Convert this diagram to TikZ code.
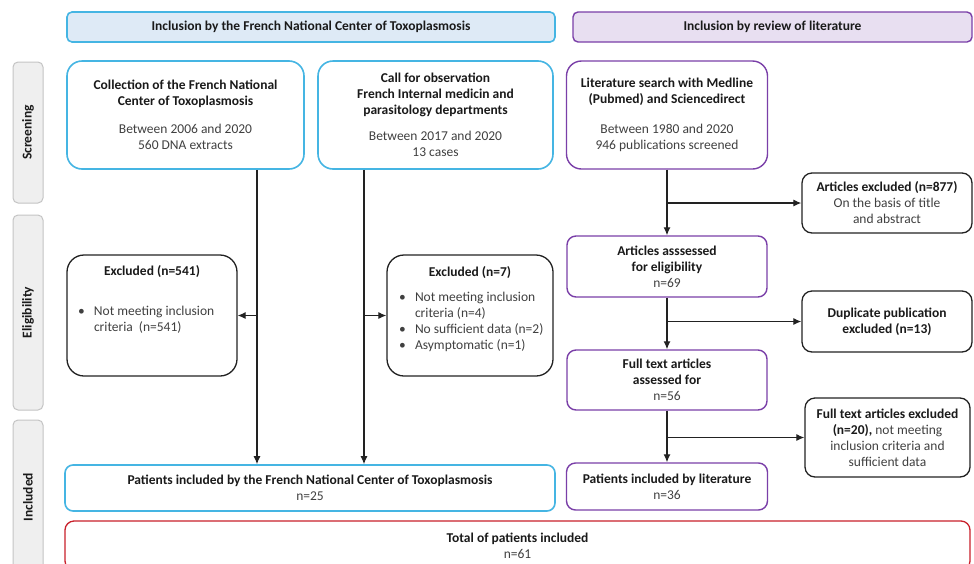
\documentclass[tikz,border=0pt]{standalone}
\usepackage{fontspec}
\setmainfont{Carlito}
\usetikzlibrary{arrows.meta}
\definecolor{cy}{HTML}{45B5E3}
\definecolor{cyf}{HTML}{DEEAF6}
\definecolor{pu}{HTML}{7A3FA8}
\definecolor{puf}{HTML}{E8DFF1}
\definecolor{rd}{HTML}{C8202A}
\definecolor{gyf}{HTML}{EFEFEF}
\definecolor{gyd}{HTML}{C4C4C4}
\definecolor{tb}{HTML}{1A1A1A}
\definecolor{tn}{HTML}{404040}
\definecolor{kb}{HTML}{222222}
\newcommand{\bt}[1]{{\bfseries\color{tb}#1}}
\begin{document}
\begin{tikzpicture}[x=1pt,y=-1pt,
  base/.style={inner sep=0pt, align=center, text=tn, font=\fontsize{13.5}{16}\selectfont},
  cbox/.style={base, draw=cy, line width=1.6pt},
  pbox/.style={base, draw=pu, line width=1.4pt},
  kbox/.style={base, draw=kb, line width=1.3pt},
  rbox/.style={base, draw=rd, line width=1.3pt},
  pbx/.style={inner sep=0pt, text=tn, font=\fontsize{13.5}{16}\selectfont, draw=kb, line width=1.3pt, rounded corners=17pt},
  side/.style={base, draw=gyd, fill=gyf, line width=1pt, rounded corners=5pt, rotate=90, minimum height=30pt, font=\fontsize{13.5}{16}\selectfont\bfseries, text=tb},
  arr/.style={draw=kb, line width=1.2pt, -{Latex[length=8pt,width=7pt]}}
]
\clip (0,0) rectangle (974,563);
\fill[white] (0,0) rectangle (974,563);

% headers
\node[base, draw=cy, fill=cyf, line width=1.6pt, rounded corners=5pt, minimum width=488pt, minimum height=30pt] (hdrA) at (311,27) {\bt{Inclusion by the French National Center of Toxoplasmosis}};
\node[base, draw=pu, fill=puf, line width=1.4pt, rounded corners=5pt, minimum width=399pt, minimum height=30pt] (hdrB) at (772.5,27) {\bt{Inclusion by review of literature}};

% side labels
\node[side, minimum width=141pt] (sideS) at (28,132.5) {Screening};
\node[side, minimum width=195pt] (sideE) at (28,312.5) {Eligibility};
\node[side, minimum width=154pt] (sideI) at (28,497) {Included};

% screening boxes
\node[cbox, rounded corners=15pt, minimum width=237pt, minimum height=108pt] (coll) at (185.5,115)
  {\bt{Collection of the French National}\\\bt{Center of Toxoplasmosis}\\[12pt]Between 2006 and 2020\\560 DNA extracts};
\node[cbox, rounded corners=15pt, minimum width=235pt, minimum height=108pt] (call) at (435.5,115)
  {\bt{Call for observation}\\\bt{French Internal medicin and}\\\bt{parasitology departments}\\[10pt]Between 2017 and 2020\\13 cases};
\node[pbox, rounded corners=15pt, minimum width=201pt, minimum height=108pt] (lit) at (667,115)
  {\bt{Literature search with Medline}\\\bt{(Pubmed) and Sciencedirect}\\[14pt]Between 1980 and 2020\\946 publications screened};

% literature column
\node[kbox, rounded corners=10pt, minimum width=170pt, minimum height=60pt] (ae877) at (887,203)
  {\bt{Articles excluded (n=877)}\\On the basis of title\\and abstract};
\node[pbox, rounded corners=9pt, minimum width=200pt, minimum height=61pt] (assess) at (667,266.5)
  {\bt{Articles asssessed}\\\bt{for eligibility}\\n=69};
\node[kbox, rounded corners=10pt, minimum width=170pt, minimum height=61pt] (dup) at (887,321.5)
  {\bt{Duplicate publication}\\\bt{excluded (n=13)}};
\node[pbox, rounded corners=9pt, minimum width=200pt, minimum height=60pt] (fulltext) at (667,380)
  {\bt{Full text articles}\\\bt{assessed for}\\n=56};
\node[kbox, rounded corners=10pt, minimum width=165pt, minimum height=79pt] (fte) at (887.5,437.5)
  {\bt{Full text articles excluded}\\\bt{(n=20),} not meeting\\inclusion criteria and\\sufficient data};

% excluded boxes (left)
\node[pbx] (ex541) at (152,315.5)
  {\parbox[c][121pt][t]{170pt}{\vspace*{10pt}{\centering\bt{Excluded (n=541)}\par}\vspace{24.5pt}%
   \hspace*{11pt}\makebox[16pt][l]{\textbullet}Not meeting inclusion\par
   \hspace*{27pt}criteria\ \ (n=541)\par}};
\node[pbx] (ex7) at (470,315.5)
  {\parbox[c][121pt][t]{166pt}{\vspace*{11pt}{\centering\bt{Excluded (n=7)}\par}\vspace{9pt}%
   \hspace*{12pt}\makebox[16pt][l]{\textbullet}Not meeting inclusion\par
   \hspace*{28pt}criteria (n=4)\par
   \hspace*{12pt}\makebox[16pt][l]{\textbullet}No sufficient data (n=2)\par
   \hspace*{12pt}\makebox[16pt][l]{\textbullet}Asymptomatic (n=1)\par}};

% included
\node[cbox, rounded corners=8pt, minimum width=490pt, minimum height=46pt] (pfn) at (310,488)
  {\bt{Patients included by the French National Center of Toxoplasmosis}\\n=25};
\node[pbox, rounded corners=9pt, minimum width=201pt, minimum height=47pt] (plit) at (667,486.5)
  {\bt{Patients included by literature}\\n=36};
\node[rbox, rounded corners=9pt, minimum width=905pt, minimum height=49pt] (total) at (517.5,545.5)
  {\bt{Total of patients included}\\n=61};

% connectors
\coordinate (xa) at (257,0);
\coordinate (xb) at (364,0);
\draw[arr] (coll.south -| xa) -- (pfn.north -| xa);
\draw[arr] (xa |- ex541.east) -- (ex541.east);
\draw[arr] (call.south -| xb) -- (pfn.north -| xb);
\draw[arr] (xb |- ex7.west) -- (ex7.west);
\draw[arr] (lit.south) -- (assess.north);
\draw[arr] (lit.south |- ae877.west) -- (ae877.west);
\draw[arr] (assess.south) -- (fulltext.north);
\draw[arr] (assess.south |- dup.west) -- (dup.west);
\draw[arr] (fulltext.south) -- (plit.north);
\draw[arr] (fulltext.south |- fte.west) -- (fte.west);
\end{tikzpicture}
\end{document}
